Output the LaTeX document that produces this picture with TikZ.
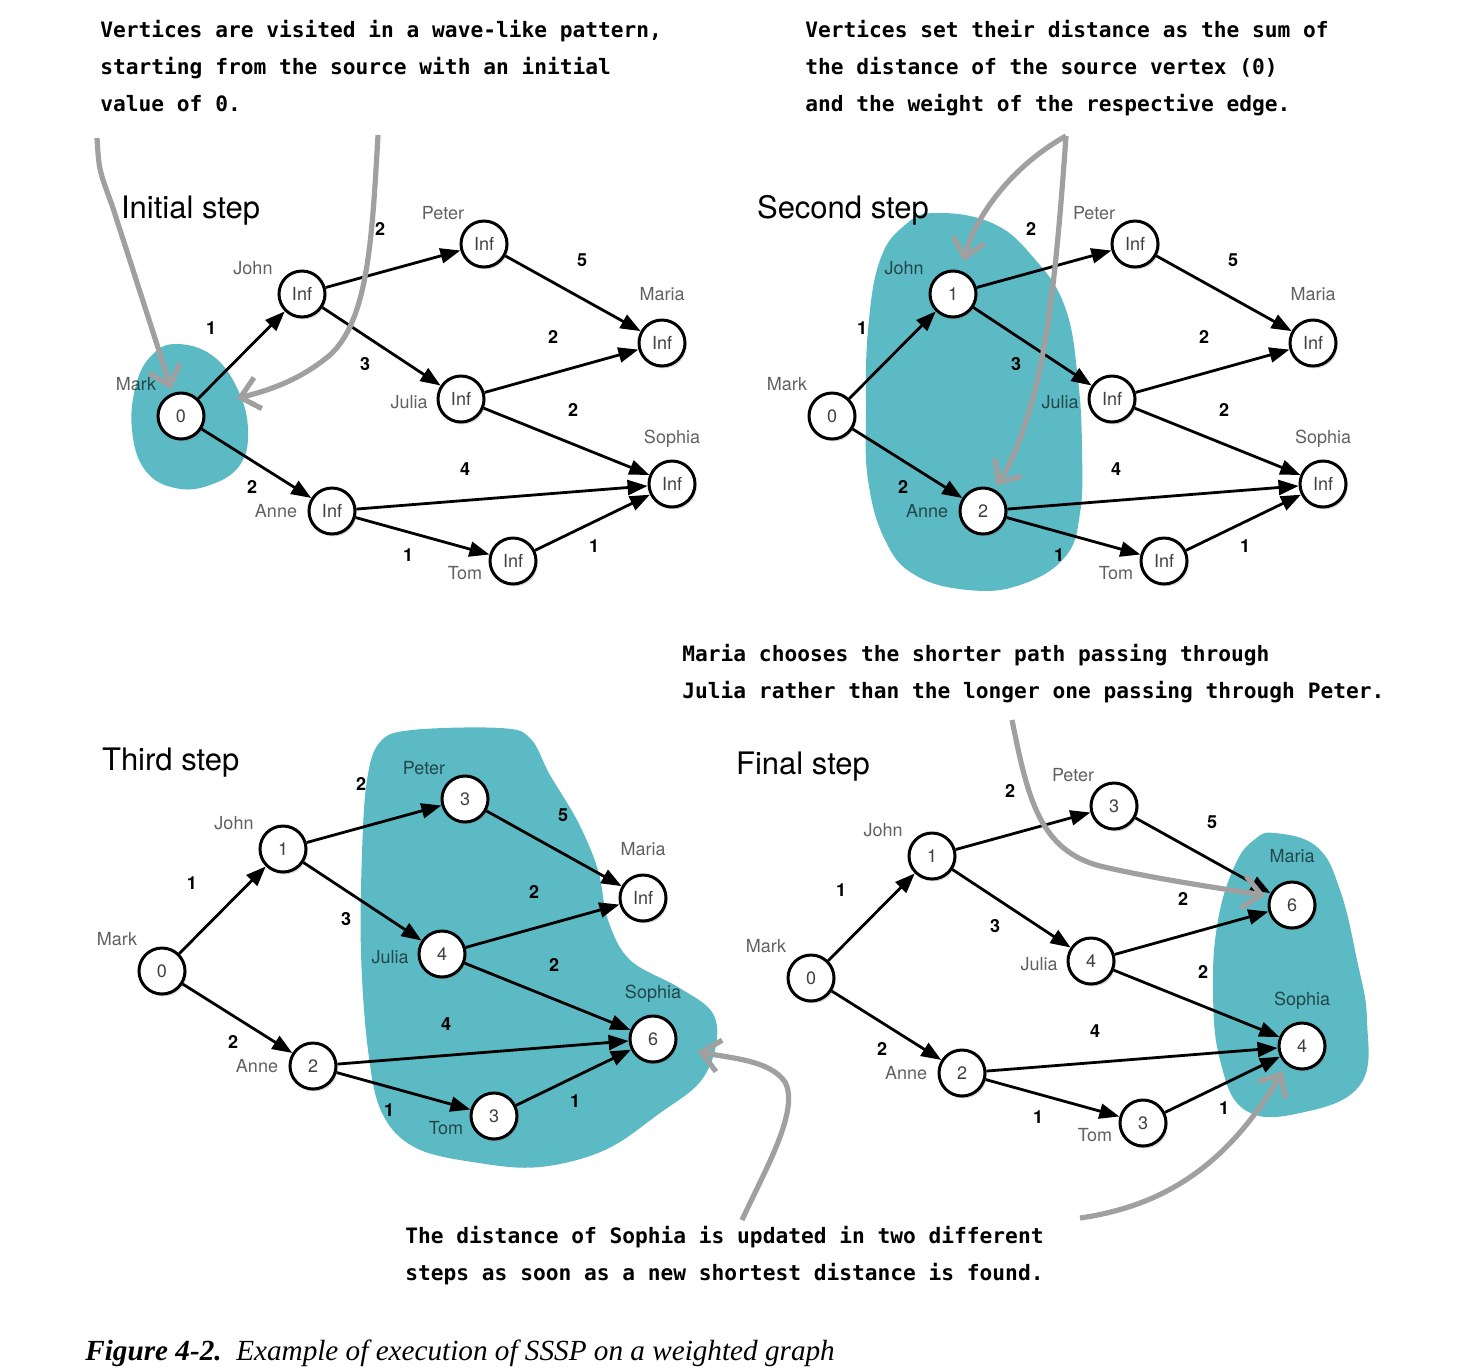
\documentclass[tikz,border=0pt]{standalone}
\usepackage{fontspec}
\setsansfont{TeX Gyre Heros}
\newfontfamily\notefont{DejaVu Sans Mono}
\newfontfamily\capfont{Liberation Serif}
\usetikzlibrary{arrows.meta,shadows}

\definecolor{blobteal}{RGB}{92,186,196}
\definecolor{hintgray}{RGB}{160,160,160}

% one step of the run: #1 = prefix of the node names, #2..#9 = distances
% of Mark, John, Peter, Julia, Maria, Sophia, Anne and Tom
\newcommand{\ssspgraph}[9]{%
  \node[vertex] (#1mark) at (0,0) {#2};
  \node[vertex] (#1john) at (121,-122) {#3};
  \node[vertex] (#1peter) at (303,-172) {#4};
  \node[vertex] (#1julia) at (280,-17) {#5};
  \node[vertex] (#1maria) at (481,-73) {#6};
  \node[vertex] (#1sophia) at (491,68) {#7};
  \node[vertex] (#1anne) at (151,95) {#8};
  \node[vertex] (#1tom) at (332,145) {#9};
  \node[vname] at (-45,-32) {Mark};
  \node[vname] at (72,-148) {John};
  \node[vname] at (262,-203) {Peter};
  \node[vname] at (481,-122) {Maria};
  \node[vname] at (228,-14) {Julia};
  \node[vname] at (491,23) {Sophia};
  \node[vname] at (95,95) {Anne};
  \node[vname] at (284,157) {Tom};
  \path[wedge]
    (#1mark) edge (#1john) edge (#1anne)
    (#1john) edge (#1peter) edge (#1julia)
    (#1peter) edge (#1maria)
    (#1julia) edge (#1maria) edge (#1sophia)
    (#1anne) edge (#1sophia) edge (#1tom)
    (#1tom) edge (#1sophia);
  \node[weight] at (30,-88) {1};
  \node[weight] at (71,71) {2};
  \node[weight] at (199,-187) {2};
  \node[weight] at (184,-52) {3};
  \node[weight] at (401,-156) {5};
  \node[weight] at (372,-79) {2};
  \node[weight] at (392,-6) {2};
  \node[weight] at (284,53) {4};
  \node[weight] at (227,139) {1};
  \node[weight] at (413,130) {1};
}

\begin{document}
\begin{tikzpicture}[x=0.5pt, y=-0.5pt,
    vertex/.style={circle, draw, line width=1.5pt, fill=white, minimum size=23pt, inner sep=0pt,
      text=black!75, font=\sffamily\fontsize{9}{10}\selectfont,
      drop shadow={opacity=0.3, shadow xshift=0.8pt, shadow yshift=-1.2pt}}, % the distance circles
    vname/.style={text=black, text opacity=0.62, font=\sffamily\fontsize{9}{10}\selectfont}, % names beside them
    weight/.style={font=\sffamily\bfseries\fontsize{9}{10}\selectfont}, % edge weights
    wedge/.style={-{Triangle[length=10pt,width=7.5pt]}, line width=1.4pt},
    title/.style={anchor=base west, font=\sffamily\fontsize{15.5}{17}\selectfont},
    note/.style={anchor=base west, align=left, inner sep=0pt,
      font=\notefont\bfseries\fontsize{10.6}{18.5}\selectfont}, % hand written remarks
    hint/.style={draw=hintgray, line width=2.6pt, -{Straight Barb[length=9pt,width=16pt]}},
    blob/.style={fill=blobteal},
  ]
  \useasboundingbox (0,0) rectangle (1470,1371);

  % visited regions
  \fill[blob] plot[smooth cycle, tension=0.7] coordinates {(177,344) (213,356) (238,390) (248,430)
    (240,465) (210,485) (175,488) (145,470) (132,430) (136,385) (152,355)};
  \fill[blob] plot[smooth cycle, tension=0.7] coordinates {(935,213) (992,223) (1033,257) (1065,307)
    (1078,380) (1082,450) (1080,513) (1065,557) (1020,585) (968,590) (915,575) (885,540) (868,480)
    (866,410) (868,330) (880,260) (905,225)};
  \fill[blob] plot[smooth cycle, tension=0.6] coordinates {(412,730) (500,728) (530,738) (550,775)
    (578,822) (598,870) (608,920) (630,960) (678,987) (712,1012) (716,1045) (700,1082) (660,1113)
    (605,1150) (540,1167) (479,1163) (416,1148) (382,1113) (368,1050) (361,953) (362,853) (367,780)
    (380,742)};
  \fill[blob] plot[smooth cycle, tension=0.7] coordinates {(1275,833) (1317,847) (1340,890)
    (1357,960) (1367,1020) (1360,1085) (1300,1113) (1245,1110) (1220,1060) (1213,990) (1218,920)
    (1235,865) (1254,840)};

  \begin{scope}[shift={(181,416)}]
    \ssspgraph{a}{0}{Inf}{Inf}{Inf}{Inf}{Inf}{Inf}{Inf}
  \end{scope}
  \begin{scope}[shift={(832,416)}]
    \ssspgraph{b}{0}{1}{Inf}{Inf}{Inf}{Inf}{2}{Inf}
  \end{scope}
  \begin{scope}[shift={(162,971)}]
    \ssspgraph{c}{0}{1}{3}{4}{Inf}{6}{2}{3}
  \end{scope}
  \begin{scope}[shift={(811,978)}]
    \ssspgraph{d}{0}{1}{3}{4}{6}{4}{2}{3}
  \end{scope}

  \node[title] (t1) at (114,218) {Initial step};
  \node[title] (t2) at (750,218) {Second step};
  \node[title] (t3) at (95,770) {Third step};
  \node[title] (t4) at (729,774) {Final step};

  \node[note] (n1) at (100,111) {Vertices are visited in a wave-like pattern,\\
    starting from the source with an initial\\ value of 0.};
  \node[note] (n2) at (805,111) {Vertices set their distance as the sum of\\
    the distance of the source vertex (0)\\ and the weight of the respective edge.};
  \node[note] (n3) at (682,698) {Maria chooses the shorter path passing through\\
    Julia rather than the longer one passing through Peter.};
  \node[note] (n4) at (405,1280) {The distance of Sophia is updated in two different\\
    steps as soon as a new shortest distance is found.};

  \node[anchor=base west, inner sep=0pt, font=\capfont\itshape\fontsize{14.6}{16}\selectfont] (cap)
    at (85,1360) {\textbf{Figure 4-2.}\ \ Example of execution of SSSP on a weighted graph};

  % pointers from the remarks
  \coordinate (h1) at (97,138);
  \coordinate (h2) at (378,135);
  \coordinate (h3) at (1066,136);
  \coordinate (h4) at (1012,720);
  \coordinate (h5) at (742,1220);
  \coordinate (h6) at (1080,1218);
  \draw[hint, shorten >=2pt] (h1) .. controls (99,170) .. (112,205) -- (amark.110);
  \draw[hint, shorten >=17pt] (h2) .. controls (372,240) and (368,320) .. (330,355)
    .. controls (300,380) and (270,390) .. (amark.22);
  \draw[hint, shorten >=5pt] (h3) .. controls (1005,170) and (972,225) .. (bjohn.69);
  \draw[hint, shorten >=2pt] (h3) .. controls (1058,250) and (1050,330) .. (1035,390)
    .. controls (1022,440) and (1010,465) .. (banne.63);
  \draw[hint, shorten >=2pt] (h4) .. controls (1028,800) and (1040,850) .. (1100,866)
    .. controls (1160,880) and (1220,888) .. (dmaria.159);
  \draw[hint, shorten >=11pt] (h5) .. controls (765,1170) and (800,1110) .. (785,1082)
    .. controls (770,1060) and (730,1058) .. (csophia.-20);
  \draw[hint, shorten >=3.5pt] (h6) .. controls (1170,1205) and (1230,1160) .. (dsophia.231);
\end{tikzpicture}
\end{document}
